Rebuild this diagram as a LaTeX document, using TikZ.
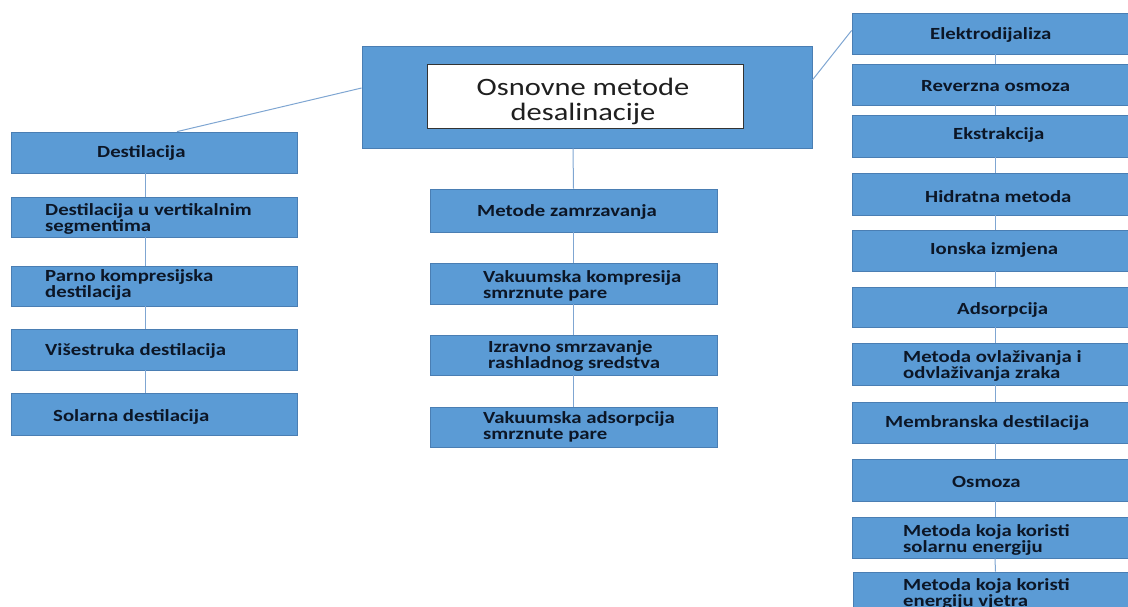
\documentclass[tikz,border=0pt]{standalone}
\usepackage{fontspec}
\setmainfont{Carlito}
\newfontfamily\lblfont[FakeStretch=1.22]{Carlito}
\usetikzlibrary{calc}
\definecolor{boxfill}{HTML}{5B9BD5}
\definecolor{boxline}{HTML}{4A7EB3}
\definecolor{txt}{HTML}{0C1626}
\definecolor{conn}{HTML}{7FA6D2}
\tikzset{
  box/.style={draw=boxline, line width=0.8pt, fill=boxfill, inner sep=0pt},
  lbl/.style={anchor=west, align=left, text=txt, font=\lblfont\fontsize{17}{15.5}\selectfont\bfseries, inner sep=0pt},
  conline/.style={draw=conn, line width=1pt}
}
\newcommand{\bx}[5]{\node[box, minimum width=#4-#2, minimum height=#5-#3] (#1) at ({(#2+#4)/2},{(#3+#5)/2}) {};}
\begin{document}
\begin{tikzpicture}[x=1pt,y=-1pt]
\useasboundingbox (0,0) rectangle (1128,607);
\clip (0,0) rectangle (1128,607);
% main
\bx{main}{362}{46}{812}{148}
\node[draw=black!80, line width=0.8pt, fill=white, minimum width=316, minimum height=64, inner sep=0pt] (inner) at (585,96) {};
\node[align=center, inner sep=0pt, text=black!88, font=\lblfont\fontsize{25}{25}\selectfont] (title) at (583,101) {Osnovne metode\\desalinacije};
% left column
\bx{L1}{11}{132}{297}{173}
\bx{L2}{11}{197}{297}{237}
\bx{L3}{11}{266}{297}{306}
\bx{L4}{11}{329}{297}{370}
\bx{L5}{11}{393}{297}{435}
\node[lbl] (tL1) at (97,153) {Destilacija};
\node[lbl] (tL2) at (45,219) {Destilacija u vertikalnim\\segmentima};
\node[lbl] (tL3) at (45,285) {Parno kompresijska\\destilacija};
\node[lbl] (tL4) at (45,351) {Višestruka destilacija};
\node[lbl] (tL5) at (53,417) {Solarna destilacija};
% center column
\bx{C1}{430}{189}{717}{232}
\bx{C2}{430}{263}{717}{304}
\bx{C3}{430}{335}{717}{375}
\bx{C4}{430}{407}{717}{447}
\node[lbl] (tC1) at (477,212) {Metode zamrzavanja};
\node[lbl] (tC2) at (483,286) {Vakuumska kompresija\\smrznute pare};
\node[lbl] (tC3) at (488,356) {Izravno smrzavanje\\rashladnog sredstva};
\node[lbl] (tC4) at (483,427) {Vakuumska adsorpcija\\smrznute pare};
% right column
\bx{R1}{852}{13}{1132}{54}
\bx{R2}{852}{64}{1132}{105}
\bx{R3}{852}{115}{1132}{157}
\bx{R4}{852}{173}{1132}{215}
\bx{R5}{852}{230}{1132}{271}
\bx{R6}{852}{287}{1132}{327}
\bx{R7}{852}{343}{1132}{385}
\bx{R8}{852}{402}{1132}{443}
\bx{R9}{852}{459}{1132}{501}
\bx{R10}{852}{517}{1132}{558}
\bx{R11}{853}{572}{1132}{622}
\node[lbl] (tR1) at (930,35) {Elektrodijaliza};
\node[lbl] (tR2) at (921,86) {Reverzna osmoza};
\node[lbl] (tR3) at (953,135) {Ekstrakcija};
\node[lbl] (tR4) at (925,197) {Hidratna metoda};
\node[lbl] (tR5) at (930,250) {Ionska izmjena};
\node[lbl] (tR6) at (957,310) {Adsorpcija};
\node[lbl] (tR7) at (903,366) {Metoda ovlaživanja i\\odvlaživanja zraka};
\node[lbl] (tR8) at (885,423) {Membranska destilacija};
\node[lbl] (tR9) at (952,482) {Osmoza};
\node[lbl] (tR10) at (903,540) {Metoda koja koristi\\solarnu energiju};
\node[lbl] (tR11) at (903,594) {Metoda koja koristi\\energiju vjetra};
% connectors
\draw[conline] ([yshift=9]main.west) -- ([xshift=23]L1.north);
\draw[conline] ([yshift=17]main.east) -- ([yshift=3]R1.west);
\draw[conline] ([xshift=-14]main.south) -- (C1.north);
\foreach \a/\b in {L1/L2,L2/L3,L3/L4,L4/L5}
  \draw[conline] ([xshift=-9]\a.south) -- ([xshift=-9]\b.north);
\foreach \a/\b in {C1/C2,C2/C3,C3/C4}
  \draw[conline] (\a.south) -- (\b.north);
\foreach \a/\b in {R1/R2,R2/R3,R3/R4,R4/R5,R5/R6,R6/R7,R7/R8,R8/R9,R9/R10,R10/R11}
  \draw[conline] ([xshift=3]\a.south) -- ([xshift=3]\b.north);
\end{tikzpicture}
\end{document}
